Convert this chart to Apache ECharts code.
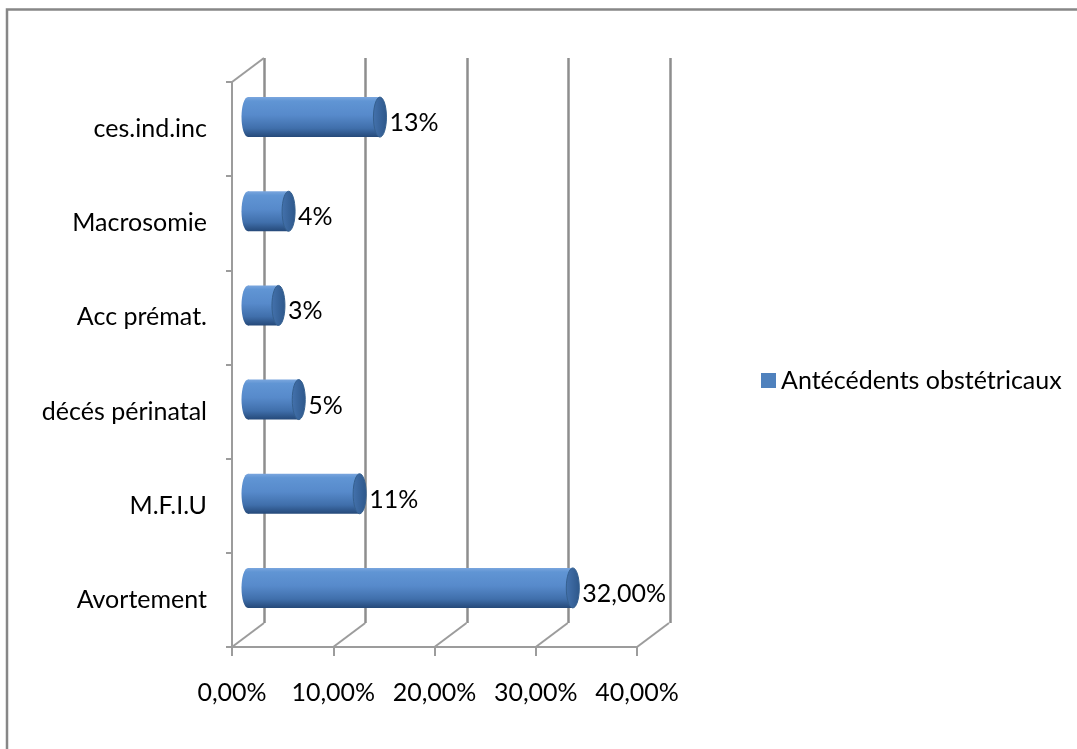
<!DOCTYPE html>
<html>
<head>
<meta charset="utf-8">
<script src="https://cdn.jsdelivr.net/npm/echarts@6/dist/echarts.min.js"></script>
<style>
  html, body { margin: 0; padding: 0; background: #fff; }
  #chart { width: 1077px; height: 749px; }
</style>
</head>
<body>
<div id="chart"></div>
<script>
// Antécédents obstétricaux — share of each history item
const categories = ['ces.ind.inc', 'Macrosomie', 'Acc prémat.', 'décés périnatal', 'M.F.I.U', 'Avortement'];
const values = [0.13, 0.04, 0.03, 0.05, 0.11, 0.32];
const valueLabels = ['13%', '4%', '3%', '5%', '11%', '32,00%'];
const xTicks = [0, 0.1, 0.2, 0.3, 0.4];
const xTickLabels = ['0,00%', '10,00%', '20,00%', '30,00%', '40,00%'];
const seriesName = 'Antécédents obstétricaux';

// pseudo-3D depth: shift from the front plane to the back wall
const DEPTH_X = 32, DEPTH_Y = -24;
const FONT = 'Lato';
const FS = 25;
const LINE_BACK = '#8e8e8e';
const LINE_FRONT = '#9c9c9c';

const chart = echarts.init(document.getElementById('chart'), null, { renderer: 'canvas' });

const bodyGradient = () => new echarts.graphic.LinearGradient(0, 0, 0, 1, [
  { offset: 0, color: '#7aa6de' },
  { offset: 0.1, color: '#6095d4' },
  { offset: 0.45, color: '#578acb' },
  { offset: 0.78, color: '#406fab' },
  { offset: 1, color: '#254979' }
]);
const capGradient = () => new echarts.graphic.LinearGradient(0, 0, 1, 0, [
  { offset: 0, color: '#4472ad' },
  { offset: 1, color: '#2d578a' }
]);

function renderCylinder(params, api) {
  const v = api.value(0);
  const c = api.value(1);
  const s = api.coord([0, c]);
  const e = api.coord([v, c]);
  // bars sit half-way between the back wall and the front plane
  const x0 = s[0] - DEPTH_X / 2;
  const x1 = e[0] - DEPTH_X / 2;
  const yc = s[1] - DEPTH_Y / 2;
  const ry = 20, rx = 6.5;
  return {
    type: 'group',
    children: [
      { type: 'ellipse', shape: { cx: x0, cy: yc, rx: rx, ry: ry }, style: { fill: bodyGradient() } },
      { type: 'rect', shape: { x: x0, y: yc - ry, width: Math.max(0, x1 - x0), height: ry * 2 }, style: { fill: bodyGradient() } },
      { type: 'ellipse', shape: { cx: x1, cy: yc, rx: rx, ry: ry }, style: { fill: capGradient(), stroke: '#35608f', lineWidth: 1 } },
      {
        type: 'text',
        style: {
          x: x1 + rx + 3, y: yc + 6,
          text: valueLabels[params.dataIndex],
          font: FS + 'px ' + FONT,
          fill: '#000',
          align: 'left',
          verticalAlign: 'middle'
        }
      }
    ]
  };
}

function renderFloor(params, api) {
  const cs = params.coordSys;
  const x = api.coord([api.value(0), 0])[0];
  const yb = cs.y + cs.height;
  const children = [
    { type: 'line', shape: { x1: x, y1: yb, x2: x + DEPTH_X, y2: yb + DEPTH_Y }, style: { stroke: LINE_FRONT, lineWidth: 2 } }
  ];
  if (params.dataIndex === 0) {
    // top edge of the side wall
    children.push({ type: 'line', shape: { x1: cs.x, y1: cs.y, x2: cs.x + DEPTH_X, y2: cs.y + DEPTH_Y }, style: { stroke: LINE_FRONT, lineWidth: 2 } });
  }
  return { type: 'group', children: children };
}

const tickFormatter = (v) => {
  const i = xTicks.findIndex(t => Math.abs(t - v) < 1e-9);
  return i >= 0 ? xTickLabels[i] : '';
};

chart.setOption({
  backgroundColor: '#fff',
  animation: false,
  textStyle: { fontFamily: FONT },
  graphic: [{
    type: 'rect',
    shape: { x: 7, y: 9.5, width: 1200, height: 900 },
    style: { fill: 'none', stroke: '#878787', lineWidth: 2.5 },
    z: -10
  }],
  legend: {
    data: [seriesName],
    left: 761,
    top: 368,
    padding: 0,
    icon: 'rect',
    itemWidth: 15,
    itemHeight: 15,
    textStyle: { fontFamily: FONT, fontSize: FS, color: '#000' }
  },
  grid: [
    // back wall
    { left: 264, right: 1077 - 670, top: 58, bottom: 749 - 623, outerBoundsMode: 'none', containLabel: false },
    // front plane
    { left: 232, right: 1077 - 637, top: 82, bottom: 749 - 647, outerBoundsMode: 'none', containLabel: false }
  ],
  xAxis: [
    {
      gridIndex: 0, type: 'value', min: 0, max: 0.4, interval: 0.1,
      axisLine: { show: false }, axisTick: { show: false }, axisLabel: { show: false },
      splitLine: { show: true, lineStyle: { color: LINE_BACK, width: 2.5 } }
    },
    {
      gridIndex: 1, type: 'value', min: 0, max: 0.4, interval: 0.1,
      axisLine: { show: true, lineStyle: { color: LINE_FRONT, width: 2 } },
      axisTick: { show: true, inside: false, length: 9, lineStyle: { color: LINE_FRONT, width: 2 } },
      axisLabel: { show: true, margin: 33, fontFamily: FONT, fontSize: FS, color: '#000', formatter: tickFormatter },
      splitLine: { show: false }
    }
  ],
  yAxis: [
    {
      gridIndex: 0, type: 'category', data: categories, inverse: true,
      axisLine: { show: false }, axisTick: { show: false }, axisLabel: { show: false }, splitLine: { show: false }
    },
    {
      gridIndex: 1, type: 'category', data: categories, inverse: true,
      axisLine: { show: true, lineStyle: { color: LINE_FRONT, width: 2 } },
      axisTick: { show: true, length: 6, lineStyle: { color: LINE_FRONT, width: 2 } },
      axisLabel: { show: true, margin: 25, fontFamily: FONT, fontSize: FS, color: '#000', padding: [12, 0, 0, 0] },
      splitLine: { show: false }
    }
  ],
  series: [
    {
      name: seriesName,
      type: 'custom',
      xAxisIndex: 0, yAxisIndex: 0,
      itemStyle: { color: '#4f81bd' },
      encode: { x: 0, y: 1 },
      data: values.map((v, i) => [v, i]),
      renderItem: renderCylinder,
      z: 5
    },
    {
      name: 'floor',
      type: 'custom',
      xAxisIndex: 1, yAxisIndex: 1,
      encode: { x: 0, y: 1 },
      data: xTicks.map(t => [t, 0]),
      renderItem: renderFloor,
      silent: true,
      z: 2
    }
  ]
});
</script>
</body>
</html>
